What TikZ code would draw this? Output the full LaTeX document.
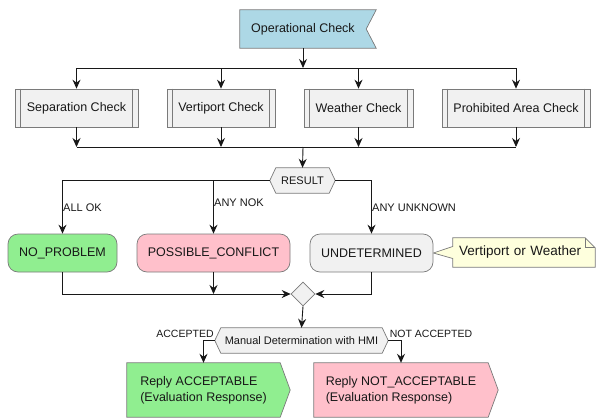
\documentclass[tikz,border=0pt]{standalone}
\usepackage{fontspec}
\setmainfont{Liberation Sans}
\usetikzlibrary{arrows.meta,calc,shapes.geometric,backgrounds}
\definecolor{boxgray}{HTML}{F1F1F1}
\definecolor{opblue}{HTML}{ADD8E6}
\definecolor{okgreen}{HTML}{90EE90}
\definecolor{nokpink}{HTML}{FFC0CB}
\definecolor{notebg}{HTML}{FEFFDD}
\definecolor{edge}{HTML}{7A7A7A}
\definecolor{ink}{HTML}{181818}
\begin{document}
\begin{tikzpicture}[x=1pt,y=-1pt,
  txt/.style={font=\fontsize{12.5}{16}\selectfont, text=ink},
  lbl/.style={font=\fontsize{11}{13}\selectfont, text=ink, inner sep=0},
  small/.style={font=\fontsize{10.5}{12}\selectfont, text=ink, inner sep=0},
  outline/.style={draw=edge, line width=0.7pt},
  arr/.style={draw=ink, line width=0.9pt, -{Stealth[length=9pt,width=8pt,inset=3pt]}},
  wire/.style={draw=ink, line width=0.9pt},
  subproc/.style={txt, outline, fill=boxgray, minimum height=38pt, inner sep=0},
  state/.style={txt, outline, rounded corners=10pt, minimum height=38pt, inner sep=0},
  hexa/.style={lbl, minimum height=25pt},
  reply/.style={txt, minimum height=54pt, inner sep=0, align=left}
]
\useasboundingbox (0,0) rectangle (596,418);

% start activity
\node[txt, minimum width=126pt, minimum height=38pt, inner sep=0] (op) at (303,29) {Operational Check};

% the four checks
\node[subproc, minimum width=123pt] (sep) at (76.5,108) {Separation Check};
\node[subproc, minimum width=108pt] (ver) at (221,108) {Vertiport Check};
\node[subproc, minimum width=109pt] (wea) at (358.5,108) {Weather Check};
\node[subproc, minimum width=148pt] (pro) at (516,108) {Prohibited Area Check};
\foreach \b in {sep,ver,wea,pro}{
  \draw[outline] ([xshift=6pt]\b.north west) -- ([xshift=6pt]\b.south west);
  \draw[outline] ([xshift=-6pt]\b.north east) -- ([xshift=-6pt]\b.south east);
}

% decision on the result
\node[hexa, minimum width=65pt] (result) at (302.5,180.5) {RESULT};

\node[state, fill=okgreen, minimum width=109pt] (nop) at (62.5,253) {NO\_PROBLEM};
\node[state, fill=nokpink, minimum width=153pt] (pc) at (213.5,253) {POSSIBLE\_CONFLICT};
\node[state, fill=boxgray, minimum width=123pt] (und) at (371.5,253) {UNDETERMINED};

\node[font=\fontsize{13.5}{16}\selectfont, text=ink, minimum width=142pt, minimum height=29pt,
      inner sep=0, text width=130pt, align=left] (note) at (524,252.5) {Vertiport or Weather};

\node[diamond, draw=edge, line width=0.7pt, fill=boxgray, minimum width=24pt,
      minimum height=24pt, inner sep=0] (dia) at (303,294) {};

\node[hexa, minimum width=173pt] (manual) at (301.5,340.5) {Manual Determination with HMI};

\node[reply, minimum width=153pt] (acc) at (203.5,390) {Reply ACCEPTABLE\\(Evaluation Response)};
\node[reply, minimum width=174pt] (nacc) at (401,390) {Reply NOT\_ACCEPTABLE\\(Evaluation Response)};

% outlines behind the texts
\begin{scope}[on background layer]
  \path[outline, fill=opblue] (op.north west) -- ($(op.north east)+(10,0)$) -- (op.east)
    -- ($(op.south east)+(10,0)$) -- (op.south west) -- cycle;
  \foreach \h in {result,manual}
    \path[outline, fill=boxgray] (\h.west) -- ($(\h.north west)+(6,0)$) -- ($(\h.north east)+(-6,0)$)
      -- (\h.east) -- ($(\h.south east)+(-6,0)$) -- ($(\h.south west)+(6,0)$) -- cycle;
  \path[outline, fill=notebg] (note.north west) -- ($(note.north east)+(-10,0)$)
    -- ($(note.north east)+(0,10)$) -- (note.south east) -- (note.south west)
    -- ($(note.west)+(0,6)$) -- (und.east) -- ($(note.west)+(0,-6)$) -- cycle;
  \draw[outline] ($(note.north east)+(-10,0)$) -- ($(note.north east)+(-10,10)$) -- ($(note.north east)+(0,10)$);
  \path[outline, fill=okgreen] (acc.north west) -- (acc.north east) -- ($(acc.east)+(10,0)$)
    -- (acc.south east) -- (acc.south west) -- cycle;
  \path[outline, fill=nokpink] (nacc.north west) -- (nacc.north east) -- ($(nacc.east)+(10,0)$)
    -- (nacc.south east) -- (nacc.south west) -- cycle;
\end{scope}

% fork and join of the checks
\coordinate (fork) at (303,68);
\coordinate (join) at (303,147);
\draw[arr] (op.south) -- (fork);
\draw[wire] (sep.north |- fork) -- (pro.north |- fork);
\foreach \b in {sep,ver,wea,pro} \draw[arr] (\b.north |- fork) -- (\b.north);
\draw[wire] (sep.south |- join) -- (pro.south |- join);
\foreach \b in {sep,ver,wea,pro} \draw[arr] (\b.south) -- (\b.south |- join);
\draw[arr] (join) -- (result.north);

% branches of the result
\draw[arr] (result.west) -| (nop.north);
\draw[arr] (pc.north |- result.west) -- (pc.north);
\draw[arr] (result.east) -| (und.north);
\node[lbl, anchor=west] (lok) at (63,208) {ALL OK};
\node[lbl, anchor=west] (lnok) at (214,203) {ANY NOK};
\node[lbl, anchor=west] (lunk) at (372,208) {ANY UNKNOWN};

% merge
\draw[arr] (nop.south) |- (dia.west);
\draw[arr] (pc.south) -- (pc.south |- dia.west);
\draw[arr] (und.south) |- (dia.east);
\draw[arr] (dia.south) -- (manual.north);

% manual determination
\draw[arr] (manual.west) -| (acc.north);
\draw[arr] (manual.east) -| (nacc.north);
\node[small] (lacc) at (185,334) {ACCEPTED};
\node[small] (lnacc) at (431,334) {NOT ACCEPTED};
\end{tikzpicture}
\end{document}
